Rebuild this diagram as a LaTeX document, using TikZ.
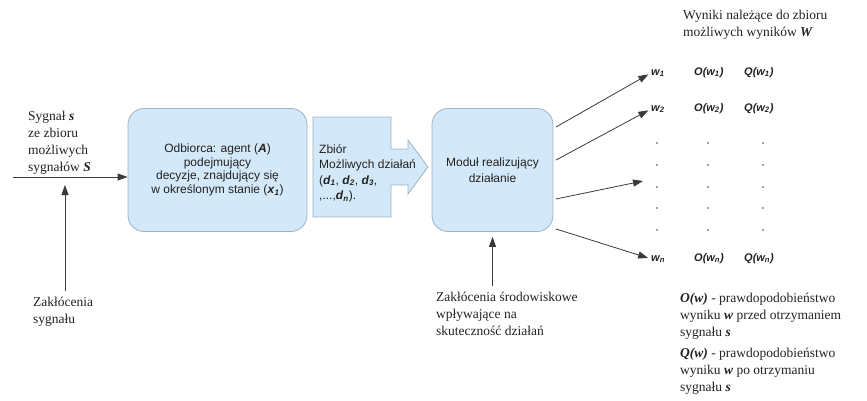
\documentclass[tikz,border=0pt]{standalone}
\usepackage{fontspec}
\setmainfont{Liberation Serif}
\setsansfont{Liberation Sans}
\usetikzlibrary{arrows.meta}
\definecolor{boxfill}{HTML}{D3E8F8}
\definecolor{boxline}{HTML}{9DB3C4}
\definecolor{connc}{HTML}{3A3A3A}
\definecolor{txt}{HTML}{222222}
\newcommand\bfit[1]{\textbf{\textit{#1}}}
\begin{document}
\begin{tikzpicture}[x=1pt,y=-1pt,
  box/.style={draw=boxline, fill=boxfill, rounded corners=16pt, line width=0.8pt, inner sep=0pt},
  conn/.style={draw=connc, line width=0.8pt, -{Triangle[length=10pt,width=7pt]}},
  serif/.style={font=\fontsize{13.5}{17}\selectfont, align=left, inner sep=0pt, text=txt, anchor=base west},
  res/.style={font=\sffamily\bfseries\itshape\fontsize{11}{13}\selectfont, inner sep=0pt, anchor=base west, text=txt},
  dotm/.style={circle, fill=black!75, inner sep=0pt, minimum size=1.6pt},
]
\useasboundingbox (0,0) rectangle (867,400);

% left signal text and arrow (base anchor = baseline of last line)
\node[serif] (sig) at (28,171) {Sygnał \bfit{s}\\ze zbioru\\możliwych\\sygnałów \bfit{S}};
\node[box, minimum width=179pt, minimum height=123pt] (agent) at (217.5,170)
  {\parbox{170pt}{\centering\sffamily\fontsize{12}{13.6}\selectfont\color{txt}
   Odbiorca: agent (\bfit{A})\\podejmujący\\decyzje, znajdujący się\\w określonym stanie (\bfit{x}\textsubscript{\bfit{1}})}};
\coordinate (sigstart) at (13,177);
\draw[conn] (sigstart) -- (sigstart -| agent.west);

\node[serif] (zs) at (33,323) {Zakłócenia\\sygnału};
\coordinate (sigup) at (65,185);
\draw[conn, shorten <=5pt] (zs.north -| sigup) -- (sigup);

% big arrow (set of actions)
\path[draw=boxline, fill=boxfill, line width=0.8pt]
  (313,117) -- (391,117) -- (391,149) -- (408,149) -- (408,140) -- (428,167)
  -- (408,194) -- (408,185) -- (391,185) -- (391,217) -- (313,217) -- cycle;
\node[anchor=north west, inner sep=0pt, align=left, font=\sffamily\fontsize{12}{15.5}\selectfont, text=txt] (acts) at (319,144)
  {Zbiór\\Możliwych działań\\(\bfit{d}\textsubscript{\bfit{1}}, \bfit{d}\textsubscript{\bfit{2}}, \bfit{d}\textsubscript{\bfit{3}},\\,...,\bfit{d}\textsubscript{\bfit{n}}).};

% module box
\node[box, minimum width=121pt, minimum height=123pt] (mod) at (492.5,170)
  {\parbox{115pt}{\centering\sffamily\fontsize{12}{15.5}\selectfont\color{txt}Moduł realizujący\\działanie}};

\node[serif] (env) at (436,335) {Zakłócenia środowiskowe\\wpływające na\\skuteczność działań};
\draw[conn, shorten <=5pt, shorten >=5pt] (env.north -| mod.south) -- (mod.south);

% results
\node[serif] (head) at (683,36) {Wyniki należące do zbioru\\możliwych wyników \bfit{W}};

\node[res] (w1) at (651,75) {w\textsubscript{1}};
\node[res] (o1) at (694,75) {O(w\textsubscript{1})};
\node[res] (q1) at (744,75) {Q(w\textsubscript{1})};
\node[res] (w2) at (651,111) {w\textsubscript{2}};
\node[res] (o2) at (694,111) {O(w\textsubscript{2})};
\node[res] (q2) at (744,111) {Q(w\textsubscript{2})};
\node[res] (wn) at (651,261) {w\textsubscript{n}};
\node[res] (on) at (694,261) {O(w\textsubscript{n})};
\node[res] (qn) at (744,261) {Q(w\textsubscript{n})};

\foreach \yy [count=\i] in {143,165,187,208,230}{
  \node[dotm] (da\i) at (657,\yy) {};
  \node[dotm] (db\i) at (708,\yy) {};
  \node[dotm] (dc\i) at (763,\yy) {};
}

\coordinate (r1) at (556,127);
\coordinate (r2) at (556,160);
\coordinate (r3) at (556,199);
\coordinate (r4) at (556,229);
\coordinate (t3) at (643,181);
\draw[conn, shorten >=3pt] (r1) -- (w1.west);
\draw[conn, shorten >=3pt] (r2) -- (w2.west);
\draw[conn] (r3) -- (t3);
\draw[conn, shorten >=3pt] (r4) -- (wn.west);

\node[serif] (defo) at (680,336) {\bfit{O(w)} - prawdopodobieństwo\\wyniku \bfit{w} przed otrzymaniem\\sygnału \bfit{s}};
\node[serif] (defq) at (680,391) {\bfit{Q(w)} - prawdopodobieństwo\\wyniku \bfit{w} po otrzymaniu\\sygnału \bfit{s}};
\end{tikzpicture}
\end{document}
